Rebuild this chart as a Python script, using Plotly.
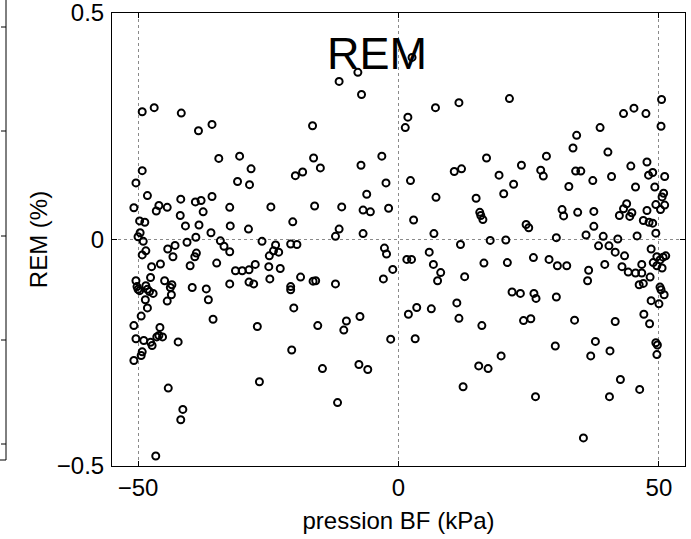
import plotly.graph_objects as go

# pression BF (kPa) and REM (%) values
pression = [
    -49.2, -46.9, -41.7, -38.4, -35.8, -34.5, -30.5, -28.3, -30.9, -28.6,
    -49.2, -50.4, -48.2, -50.8, -46.0, -46.5, -44.4, -41.8, -41.9, -40.9,
    -39.0, -37.9, -37.5, -35.8, -38.3, -38.9, -36.0, -32.4, -32.3, -28.8,
    -24.5, -20.3, -19.8, -18.4, -49.7, -48.7, -49.6, -50.0, 2.6, -7.8,
    -11.4, -7.1, -16.5, 1.8, 1.3, 7.1, 11.6, -16.3, -15.0, -7.2,
    -3.2, -2.4, -6.1, -16.1, -10.9, -6.8, -5.4, -1.9, -11.4, -12.1,
    -6.8, 2.3, 7.2, 2.9, 6.8, 10.7, 12.1, 16.9, 14.9, 15.6,
    15.8, 16.2, 21.3, 19.3, 20.2, 22.1, 23.6, 27.3, 27.8, 28.4,
    31.4, 31.7, 24.5, 25.0, 30.3, 34.4, 36.0, 37.5, 37.5, 39.3,
    42.1, 32.7, 33.5, 34.2, 34.0, 35.0, 37.3, 38.7, 40.2, 40.9,
    43.2, 45.2, 47.5, 50.5, 50.4, 44.6, 45.5, 47.7, 48.0, 48.8,
    49.2, 51.1, 50.9, 50.6, 51.1, 50.3, 49.4, 47.7, 47.0, 48.1,
    48.8, 49.4, 45.8, 43.8, 43.2, 44.8, 44.4, 42.4, 20.6, 17.6,
    -49.0, -42.9, -40.6, -34.2, -26.2, -23.6, -20.7, -19.5, 11.9,
    -49.2, -48.5, -47.4, -45.7, -44.3, -43.3, -38.8, -39.1, -40.0, -34.9,
    -33.5, -32.4, -24.0, -23.0, -24.8, -24.9, -22.7, -27.5, -31.3, -30.0,
    -28.7, -24.7, -18.8, -32.4, -28.7, -27.8, -20.7, -20.7, -20.1, -27.1,
    -20.5, -26.7, -39.6, -36.9, -36.5, -35.6, -42.3, -44.2, -41.4, -41.8,
    -46.6, -50.4, -50.2, -50.0, -49.7, -48.5, -48.2, -47.6, -47.8, -47.1,
    -48.6, -48.2, -44.9, -43.8, -43.5, -43.6, -44.4, -49.4, -50.8, -50.4,
    -48.9, -47.6, -47.3, -45.8, -46.4, -45.3, -46.0, -49.2, -49.4, -50.8,
    -16.4, -15.9, -15.5, -14.6, -12.1, -11.7, -10.5, -10.0, -7.4, -7.6,
    -5.9, -2.9, -2.7, -2.3, -1.1, -1.5, 1.6, 2.5, 5.9, 6.7,
    8.1, 7.5, 12.7, 16.4, 11.2, 11.6, 16.0, 3.5, 1.9, 6.3,
    3.2, 15.4, 17.2, 12.4,
    38.4, 40.4, 41.6, 43.4, 20.9, 25.9, 28.9, 30.5, 32.3, 36.5,
    36.3, 39.6, 42.9, 44.1, 45.5, 46.7, 46.7, 46.2, 47.0, 48.3,
    48.5, 49.6, 50.2, 50.8, 51.3, 48.9, 49.6, 50.6, 50.2, 50.4,
    51.0, 48.5, 50.0, 47.1, 48.2, 21.8, 23.4, 26.0, 26.4, 30.3,
    24.0, 25.4, 33.8, 41.6, 30.1, 37.8, 36.9, 40.6, 19.7, 49.4,
    49.7, 49.6, 42.6, 46.3, 26.3, 40.5, 35.5,
]

rem = [
    0.282, 0.291, 0.279, 0.240, 0.254, 0.179, 0.184, 0.156, 0.128, 0.121,
    0.152, 0.125, 0.097, 0.070, 0.075, 0.063, 0.071, 0.089, 0.053, 0.030,
    0.083, 0.086, 0.061, 0.095, 0.032, 0.005, 0.015, 0.071, 0.030, 0.023,
    0.072, 0.039, 0.141, 0.149, 0.041, 0.038, 0.015, 0.006, 0.402, 0.369,
    0.349, 0.320, 0.251, 0.270, 0.247, 0.291, 0.302, 0.180, 0.158, 0.164,
    0.184, 0.125, 0.100, 0.074, 0.072, 0.065, 0.061, 0.069, 0.023, 0.007,
    0.013, 0.130, 0.093, 0.043, 0.013, 0.150, 0.156, 0.180, 0.091, 0.060,
    0.053, 0.044, 0.311, 0.142, 0.101, 0.122, 0.164, 0.153, 0.140, 0.184,
    0.066, 0.052, 0.033, 0.026, 0.004, 0.060, 0.010, 0.062, 0.029, 0.007,
    0.001, 0.117, 0.202, 0.230, 0.151, 0.151, 0.130, 0.247, 0.193, 0.139,
    0.278, 0.290, 0.278, 0.309, 0.250, 0.162, 0.116, 0.171, 0.142, 0.148,
    0.116, 0.139, 0.102, 0.094, 0.076, 0.066, 0.077, 0.064, 0.042, 0.038,
    0.036, 0.014, 0.008, 0.079, 0.068, 0.059, 0.051, 0.053, -0.001, -0.002,
    -0.004, -0.013, -0.006, -0.003, -0.004, -0.012, -0.010, -0.011, -0.011,
    -0.034, -0.025, -0.060, -0.054, -0.021, -0.038, -0.030, -0.038, -0.058, -0.052,
    -0.015, -0.027, -0.025, -0.028, -0.036, -0.060, -0.064, -0.055, -0.069, -0.069,
    -0.067, -0.087, -0.083, -0.098, -0.094, -0.098, -0.104, -0.111, -0.151, -0.192,
    -0.244, -0.314, -0.106, -0.109, -0.133, -0.176, -0.226, -0.328, -0.375, -0.398,
    -0.478, -0.091, -0.104, -0.110, -0.113, -0.102, -0.110, -0.084, -0.115, -0.119,
    -0.133, -0.151, -0.091, -0.106, -0.100, -0.122, -0.136, -0.169, -0.190, -0.219,
    -0.223, -0.227, -0.234, -0.194, -0.215, -0.215, -0.212, -0.248, -0.256, -0.267,
    -0.092, -0.091, -0.190, -0.285, -0.098, -0.360, -0.200, -0.180, -0.170, -0.276,
    -0.287, -0.087, -0.019, -0.032, -0.066, -0.220, -0.044, -0.044, -0.028, -0.055,
    -0.073, -0.091, -0.082, -0.052, -0.140, -0.174, -0.190, -0.150, -0.165, -0.153,
    -0.219, -0.279, -0.285, -0.325,
    -0.014, -0.014, -0.028, -0.036, -0.051, -0.040, -0.044, -0.058, -0.058, -0.068,
    -0.091, -0.055, -0.060, -0.072, -0.074, -0.074, -0.055, -0.100, -0.097, -0.083,
    -0.021, -0.038, -0.045, -0.039, -0.036, -0.051, -0.058, -0.063, -0.105, -0.111,
    -0.122, -0.135, -0.142, -0.165, -0.186, -0.116, -0.119, -0.119, -0.130, -0.127,
    -0.179, -0.175, -0.178, -0.181, -0.235, -0.225, -0.257, -0.246, -0.257, -0.228,
    -0.233, -0.254, -0.309, -0.331, -0.347, -0.347, -0.438,
]

x_ticks = [-50, 0, 50]
x_ticklabels = ["\u221250", "0", "50"]
y_ticks = [-0.5, 0, 0.5]
y_ticklabels = ["\u22120.5", "0", "0.5"]

W, H = 691, 539
L, R, T, B = 112, 685, 13, 466  # plot box in pixels

FONT = "Liberation Sans, Arial, Helvetica, sans-serif"

fig = go.Figure(
    go.Scatter(
        x=pression,
        y=rem,
        mode="markers",
        marker=dict(symbol="circle-open", size=7, color="black",
                    line=dict(width=2, color="black")),
        showlegend=False,
        cliponaxis=True,
    )
)

axis_common = dict(
    showline=True, linecolor="black", linewidth=1, mirror="ticks",
    ticks="inside", ticklen=5, tickcolor="black", tickwidth=1,
    showgrid=True, gridcolor="#8a8a8a", griddash="dot", gridwidth=1,
    zeroline=False, tickfont=dict(size=24, color="black", family=FONT),
    ticklabeloverflow="allow",
)

fig.update_layout(
    width=W, height=H,
    margin=dict(l=L, r=W - R, t=T, b=H - B, autoexpand=False),
    paper_bgcolor="white", plot_bgcolor="white",
    font=dict(family=FONT, color="black"),
    xaxis=dict(range=[-55, 55], tickvals=x_ticks, ticktext=x_ticklabels,
               title=dict(text="pression BF (kPa)", font=dict(size=24), standoff=12),
               automargin=False, **axis_common),
    yaxis=dict(range=[-0.5, 0.5], tickvals=y_ticks, ticktext=y_ticklabels,
               title=dict(text="REM (%)", font=dict(size=24), standoff=2),
               automargin=False, ticklabelstandoff=2, **axis_common),
    annotations=[dict(text="REM", xref="paper", yref="paper",
                      x=(377 - L) / (R - L), y=(B - 53) / (B - T),
                      xanchor="center", yanchor="middle", showarrow=False,
                      font=dict(size=45, color="black", family=FONT))],
)

# Edge of the neighbouring (cropped) subplot at the far left
def px_x(p):
    return (p - L) / (R - L)

def px_y(p):
    return (B - p) / (B - T)

edge_x = px_x(6)
shapes = [
    dict(type="line", xref="paper", yref="paper", x0=edge_x, x1=edge_x,
         y0=px_y(0), y1=px_y(460), line=dict(color="black", width=1)),
    dict(type="line", xref="paper", yref="paper", x0=px_x(-2), x1=edge_x,
         y0=px_y(460), y1=px_y(460), line=dict(color="black", width=1)),
]
for ty in [27, 131, 236, 340, 444]:
    shapes.append(dict(type="line", xref="paper", yref="paper",
                       x0=px_x(1), x1=edge_x, y0=px_y(ty), y1=px_y(ty),
                       line=dict(color="black", width=1)))
fig.update_layout(shapes=shapes)

fig.write_html("out.html",
               config={"displayModeBar": False},
               post_script="document.body.style.margin='0';document.body.style.overflow='hidden';")
